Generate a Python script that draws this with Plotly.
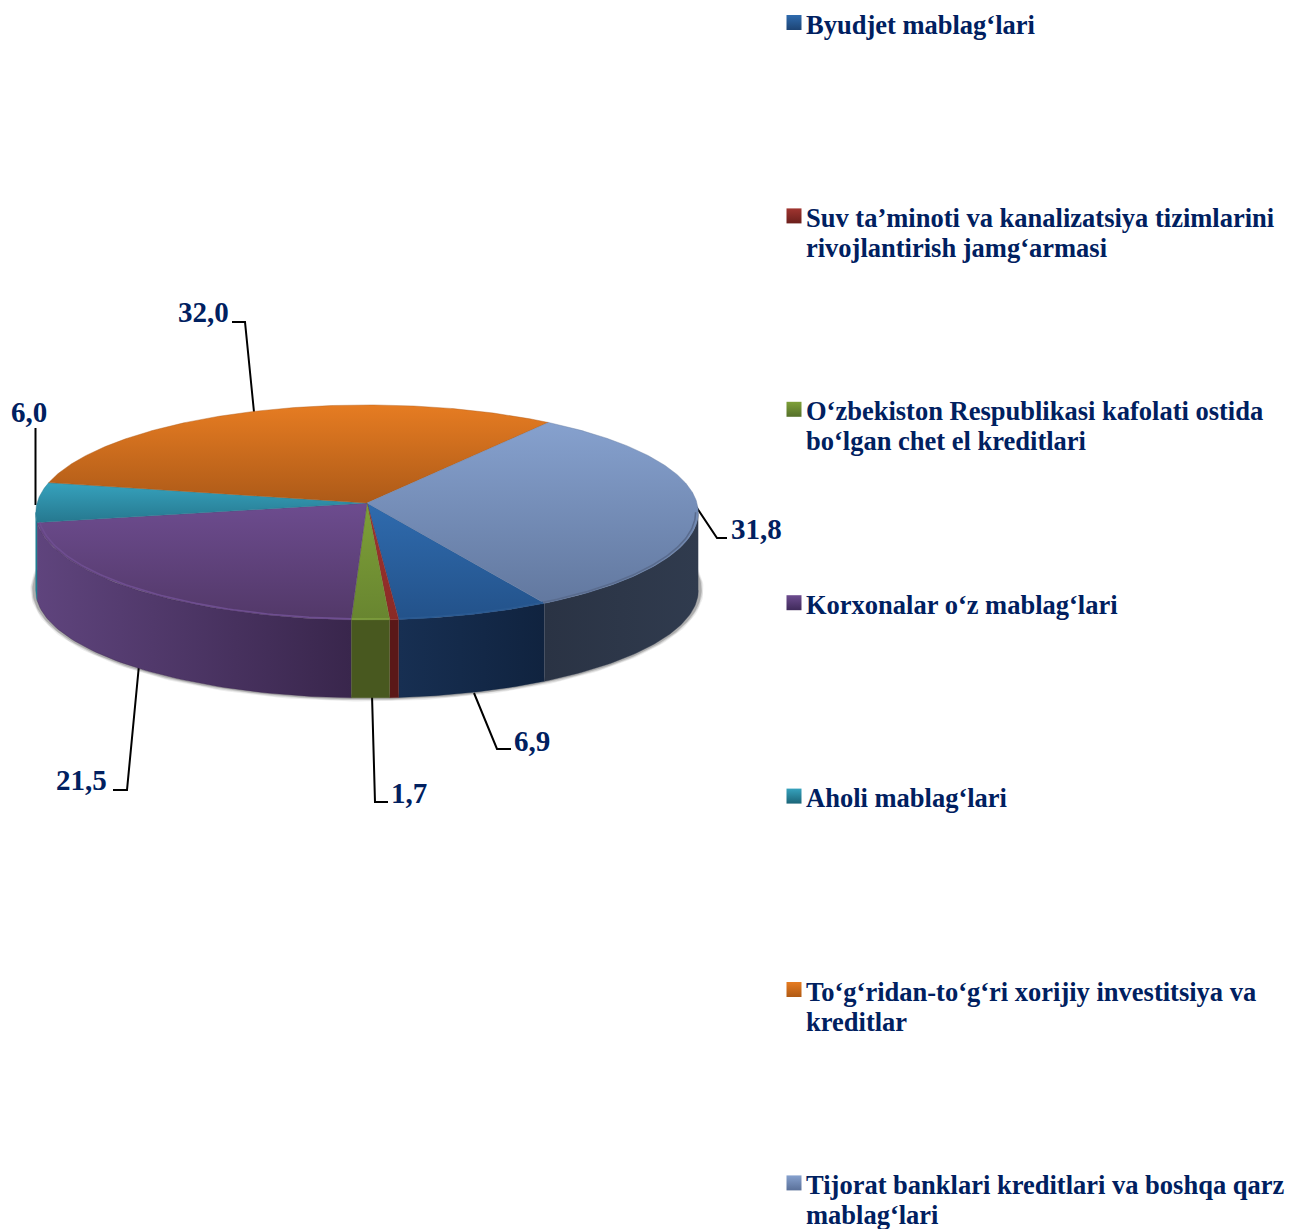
import numpy as np
import plotly.graph_objects as go

categories = [
    "Byudjet mablag‘lari",
    "Suv ta’minoti va kanalizatsiya tizimlarini<br>rivojlantirish jamg‘armasi",
    "O‘zbekiston Respublikasi kafolati ostida<br>bo‘lgan chet el kreditlari",
    "Korxonalar o‘z mablag‘lari",
    "Aholi mablag‘lari",
    "To‘g‘ridan-to‘g‘ri xorijiy investitsiya va<br>kreditlar",
    "Tijorat banklari kreditlari va boshqa qarz<br>mablag‘lari",
]
values = [6.9, 0.4, 1.7, 21.5, 6.0, 32.0, 31.8]
value_labels = ["6,9", "", "1,7", "21,5", "6,0", "32,0", "31,8"]

top_colors = [("#2F6BAE", "#23528A"), ("#A03530", "#8A2A26"), ("#7EA038", "#688530"),
              ("#6D4C8F", "#523868"), ("#36A2BD", "#26788F"), ("#E67C22", "#AD5A18"), ("#86A1CE", "#62789F")]
side_colors = [("#172F52", "#10233F"), ("#5A1818", "#5A1818"), ("#48581F", "#48581F"),
               ("#5F447D", "#39264C"), ("#1F7C93", "#1F7C93"), ("#8A4C12", "#8A4C12"), ("#2A3344", "#303B4E")]
swatch_dark = ["#1D4474", "#6B1F1C", "#55702A", "#3F2A5A", "#1B6578", "#B05A14", "#5A7099"]

# Geometry of the projected disc (page pixels)
CX, CY, RX, RY, PERSP, DEPTH = 367, 503, 330, 106.7, 0.088, 78
START_DEG = 150.2
SIL_L, SIL_R = 95.0, 265.0


def project(t_deg, k=1.0):
    t = np.radians(t_deg)
    u, v = k * np.sin(t), -k * np.cos(t)
    d = 1 - PERSP * v
    return CX + RX * u / d, CY + RY * v / d


def front_part(a, b):
    """Part of the angular span [a, b] that lies on the visible front wall."""
    for off in (0, 360):
        lo, hi = max(a, SIL_L + off), min(b, SIL_R + off)
        if hi > lo:
            return lo, hi
    return None


frac = np.array(values) / sum(values) * 360
edges = START_DEG + np.concatenate([[0], np.cumsum(frac)])

fig = go.Figure()
NONE = dict(showlegend=False, hoverinfo="skip")

# soft ground shadow
arc_t = np.linspace(SIL_L - 10, SIL_R + 10, 220)
sx, sy = project(arc_t, 1.004)
for w, a in [(8, 0.07), (6, 0.11), (4, 0.18)]:
    fig.add_trace(go.Scatter(x=sx, y=sy + DEPTH - 1, mode="lines",
                             line=dict(color=f"rgba(0,0,0,{a})", width=w), **NONE))

# side walls
for i, name in enumerate(categories):
    span = front_part(edges[i], edges[i + 1])
    if span is None:
        continue
    x, y = project(np.linspace(span[0], span[1], 60))
    px = np.concatenate([x, x[::-1]])
    py = np.concatenate([y, y[::-1] + DEPTH])
    c0, c1 = side_colors[i]
    fig.add_trace(go.Scatter(
        x=px, y=py, mode="lines", fill="toself", name=name.replace("<br>", " "),
        line=dict(color=c1, width=0.4),
        fillgradient=dict(type="horizontal", start=float(px.min()), stop=float(px.max()),
                          colorscale=[[0, c0], [1, c1]]),
        **NONE))

# top faces
for i, name in enumerate(categories):
    t = np.linspace(edges[i], edges[i + 1], max(4, int(frac[i] * 2)))
    x, y = project(t)
    px = np.concatenate([[CX], x, [CX]])
    py = np.concatenate([[CY], y, [CY]])
    c0, c1 = top_colors[i]
    fig.add_trace(go.Scatter(
        x=px, y=py, mode="lines", fill="toself", name=name.replace("<br>", " "),
        line=dict(color=c1, width=0.4),
        fillgradient=dict(type="vertical", start=float(py.min()), stop=float(py.max()),
                          colorscale=[[0, c0], [1, c1]]),
        **NONE))

# bevel along the front rim
rim_colors = ["#2A5A92", "#A03530", "#7A9A3A", "#6E4E90", "#36A2BD", "#E67C22", "#5A6C8E"]
for i in [0, 2, 3, 6]:
    span = front_part(edges[i], edges[i + 1])
    x, y = project(np.linspace(span[0], span[1], 80), 0.992)
    fig.add_trace(go.Scatter(x=x, y=y, mode="lines",
                             line=dict(color=rim_colors[i], width=1.6), **NONE))

# legend swatches and texts
LEGEND_X, LEGEND_Y0, LEGEND_STEP, LINE_GAP = 794, 22.5, 193.4, 30
for i, name in enumerate(categories):
    yy = LEGEND_Y0 + i * LEGEND_STEP
    fig.add_trace(go.Scatter(
        x=[LEGEND_X], y=[yy], mode="markers",
        marker=dict(symbol="square", size=15, color=top_colors[i][0],
                    gradient=dict(type="vertical", color=swatch_dark[i]), line=dict(width=0)),
        **NONE))
    for j, line in enumerate(name.split("<br>")):
        fig.add_annotation(x=806, y=yy + 2 + j * LINE_GAP, xref="x", yref="y", text=f"<b>{line}</b>",
                           showarrow=False, xanchor="left", yanchor="middle", align="left",
                           font=dict(family="Liberation Serif", size=26.5, color="#002060"),
                           borderpad=0, borderwidth=0)

# data labels
label_xy = [(532, 741), None, (409, 793), (81, 780), (29, 412), (203, 312), (756, 529)]
for lab, pos in zip(value_labels, label_xy):
    if lab:
        fig.add_annotation(x=pos[0], y=pos[1], xref="x", yref="y", text=f"<b>{lab}</b>",
                           showarrow=False, xanchor="center", yanchor="middle",
                           font=dict(family="Liberation Serif", size=29, color="#002060"))

# leader lines
leaders = [
    "M 474 693 L 497 749 L 511 749",
    "M 372 695 L 375 802 L 388 802",
    "M 139 665 L 127 790 L 113 790",
    "M 35.5 428 L 35.5 505",
    "M 232 322 L 245 322 L 254 412",
    "M 695 505 L 717 538 L 727 538",
]
shapes = [dict(type="path", path=p, xref="x", yref="y", layer="below",
               line=dict(color="#000000", width=2)) for p in leaders]

fig.update_layout(
    width=1291, height=1229, margin=dict(l=0, r=0, t=0, b=0),
    paper_bgcolor="white", plot_bgcolor="white", showlegend=False, shapes=shapes,
    xaxis=dict(range=[0, 1291], visible=False, fixedrange=True),
    yaxis=dict(range=[1229, 0], visible=False, fixedrange=True),
)
fig.write_html("out.html", config={"displayModeBar": False},
               post_script="document.body.style.margin='0';")
